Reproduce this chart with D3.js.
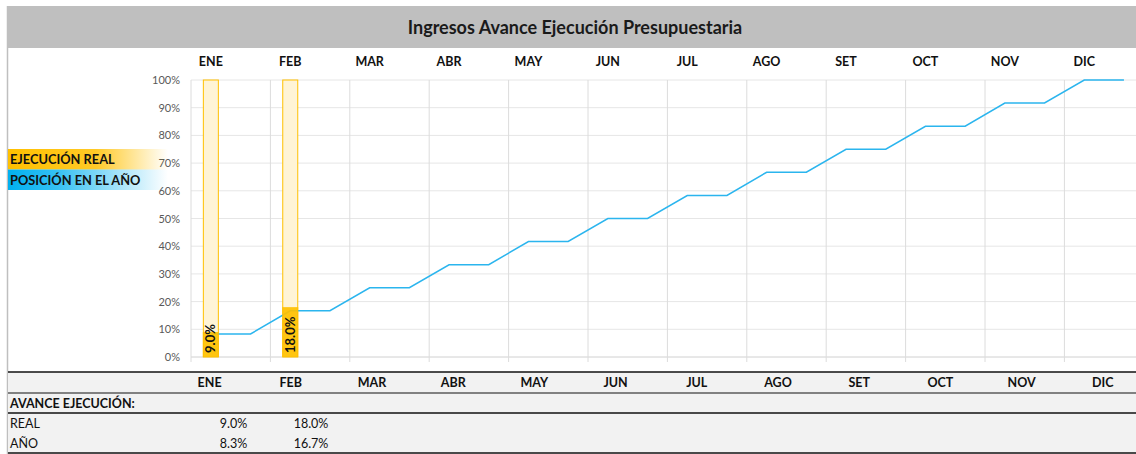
<!DOCTYPE html>
<html>

<head>
    <meta charset="utf-8">
    <style>
        body {
            margin: 0;
            background: white;
            font-family: Lato, "Open Sans", sans-serif;
        }

        svg {
            display: block;
        }
    </style>
</head>

<body>
    <svg width="1136" height="454"></svg>
</body>

<script src="https://d3js.org/d3.v7.min.js"></script>

<script>
    // data
    let months = ["ENE", "FEB", "MAR", "ABR", "MAY", "JUN", "JUL", "AGO", "SET", "OCT", "NOV", "DIC"]
    let realPct = [0.090, 0.180]   // only the months already executed
    let yearPct = [0.083, 0.167, 0.250, 0.333, 0.417, 0.500, 0.583, 0.667, 0.750, 0.833, 0.917, 1.000]
    let yTicks = [0, 0.1, 0.2, 0.3, 0.4, 0.5, 0.6, 0.7, 0.8, 0.9, 1.0]

    let title = "Ingresos Avance Ejecución Presupuestaria"
    let legendLabels = ["EJECUCIÓN REAL", "POSICIÓN EN EL AÑO"]
    let tableLabels = ["AVANCE EJECUCIÓN:", "REAL", "AÑO"]

    let svg = d3.select("svg")
    let defs = svg.append("defs")

    // two slots per month: bar sits in the first, line points in both
    let slots = d3.range(months.length * 2)
    let x = d3.scaleBand()
        .domain(slots)
        .range([191, 191 + 24 * 39.7])

    let y = d3.scaleLinear()
        .domain([0, 1])
        .range([357, 80])

    let fmt = d3.format(".1%")

    // frame + title bar
    svg.append("rect")
        .attr("x", 7).attr("y", 6)
        .attr("width", 1136).attr("height", 42)
        .style("fill", "#bfbfbf")

    svg.append("line")
        .attr("x1", 7.5).attr("x2", 7.5)
        .attr("y1", 6).attr("y2", 454)
        .style("stroke", "#bfbfbf")
        .style("stroke-width", 1.5)

    svg.append("text")
        .attr("x", 575).attr("y", 34)
        .attr("text-anchor", "middle")
        .style("font-size", "18px")
        .style("font-weight", "bold")
        .style("fill", "#1a1a1a")
        .text(title)

    // top month labels
    svg.selectAll(".top-month")
        .data(months)
        .join("text")
        .attr("class", "top-month")
        .attr("x", (d, i) => x(i * 2) + x.bandwidth() / 2)
        .attr("y", 66)
        .attr("text-anchor", "middle")
        .style("font-size", "12.5px")
        .style("font-weight", "bold")
        .style("fill", "#111")
        .text(d => d)

    // gridlines
    svg.selectAll(".hgrid")
        .data(yTicks)
        .join("line")
        .attr("class", "hgrid")
        .attr("x1", x.range()[0]).attr("x2", x.range()[1])
        .attr("y1", d => y(d)).attr("y2", d => y(d))
        .style("stroke", d => d == 0 ? "#d0d0d0" : "#e6e6e6")
        .style("stroke-width", 1)

    svg.selectAll(".vgrid")
        .data(months)
        .join("line")
        .attr("class", "vgrid")
        .attr("x1", (d, i) => x(i * 2)).attr("x2", (d, i) => x(i * 2))
        .attr("y1", y(1)).attr("y2", y(0) + 5)
        .style("stroke", "#dcdcdc")
        .style("stroke-width", 1)

    // y axis labels
    svg.selectAll(".ytick")
        .data(yTicks)
        .join("text")
        .attr("class", "ytick")
        .attr("x", 180)
        .attr("y", d => y(d) + 4)
        .attr("text-anchor", "end")
        .style("font-size", "11px")
        .style("fill", "#595959")
        .text(d => d3.format(".0%")(d))

    // bars: full-height frame then the executed part
    let barW = 16
    let barX = i => x(i * 2) + x.bandwidth() / 2 - barW / 2

    svg.selectAll(".bar-bg")
        .data(realPct)
        .join("rect")
        .attr("class", "bar-bg")
        .attr("x", (d, i) => barX(i) + 0.5)
        .attr("y", y(1))
        .attr("width", barW - 1)
        .attr("height", y(0) - y(1))
        .style("fill", "#fff4d6")
        .style("stroke", "#ffc000")
        .style("stroke-width", 1)

    // line of the year position (flat inside each month, ramps between)
    let linePts = []
    yearPct.forEach((v, i) => {
        linePts.push([i * 2, v])
        linePts.push([i * 2 + 1, v])
    })

    let line = d3.line()
        .x(d => x(d[0]) + x.bandwidth() / 2)
        .y(d => y(d[1]))

    svg.append("path")
        .datum(linePts)
        .attr("d", line)
        .style("fill", "none")
        .style("stroke", "#2bb5ee")
        .style("stroke-width", 1.5)

    svg.selectAll(".bar")
        .data(realPct)
        .join("rect")
        .attr("class", "bar")
        .attr("x", (d, i) => barX(i))
        .attr("y", d => y(d))
        .attr("width", barW)
        .attr("height", d => y(0) - y(d))
        .style("fill", "#ffc000")
        .style("opacity", 0.92)

    svg.selectAll(".bar-label")
        .data(realPct)
        .join("text")
        .attr("class", "bar-label")
        .attr("transform", (d, i) => "translate(" + (barX(i) + barW / 2 + 4.5) + "," + (y(0) - 4) + ") rotate(-90)")
        .style("font-size", "13px")
        .style("font-weight", "bold")
        .style("fill", "#111")
        .text(d => fmt(d))

    // legend with fading colour bands
    let legendColors = ["#ffc000", "#00b0f0"]
    legendColors.forEach((c, i) => {
        let g = defs.append("linearGradient")
            .attr("id", "grad" + i)
        g.append("stop").attr("offset", "0%").attr("stop-color", c)
        g.append("stop").attr("offset", i == 0 ? "55%" : "30%").attr("stop-color", c).attr("stop-opacity", i == 0 ? 0.85 : 0.8)
        g.append("stop").attr("offset", "100%").attr("stop-color", c).attr("stop-opacity", 0)
    })

    svg.selectAll(".legend-box")
        .data(legendLabels)
        .join("rect")
        .attr("class", "legend-box")
        .attr("x", 8)
        .attr("y", (d, i) => 149 + i * 20.5)
        .attr("width", 160)
        .attr("height", 20.5)
        .style("fill", (d, i) => "url(#grad" + i + ")")

    svg.selectAll(".legend-text")
        .data(legendLabels)
        .join("text")
        .attr("class", "legend-text")
        .attr("x", 10)
        .attr("y", (d, i) => 164 + i * 20.5)
        .style("font-size", "12.8px")
        .style("font-weight", "bold")
        .style("fill", "#111")
        .text(d => d)

    // bottom table
    let col = d3.scaleBand()
        .domain(months)
        .range([169, 169 + 12 * 81.2])

    let rowTop = [372, 393, 413, 433]

    svg.append("rect")
        .attr("x", 8).attr("y", 372)
        .attr("width", 1128).attr("height", 82)
        .style("fill", "#f2f2f2")

    svg.selectAll(".row-line")
        .data([372, 393, 413, 453])
        .join("line")
        .attr("class", "row-line")
        .attr("x1", 8).attr("x2", 1136)
        .attr("y1", d => d).attr("y2", d => d)
        .style("stroke", "#111")
        .style("stroke-width", d => d == 393 ? 1 : 1.5)

    svg.selectAll(".bottom-month")
        .data(months)
        .join("text")
        .attr("class", "bottom-month")
        .attr("x", d => col(d) + col.bandwidth() / 2)
        .attr("y", rowTop[0] + 15)
        .attr("text-anchor", "middle")
        .style("font-size", "12.5px")
        .style("font-weight", "bold")
        .style("fill", "#111")
        .text(d => d)

    svg.selectAll(".row-label")
        .data(tableLabels)
        .join("text")
        .attr("class", "row-label")
        .attr("x", 10)
        .attr("y", (d, i) => rowTop[i + 1] + 15)
        .style("font-size", "12.5px")
        .style("font-weight", (d, i) => i == 0 ? "bold" : "normal")
        .style("fill", "#111")
        .text(d => d)

    let tableRows = [realPct, yearPct.slice(0, realPct.length)]
    tableRows.forEach((vals, r) => {
        svg.selectAll(".cell-" + r)
            .data(vals)
            .join("text")
            .attr("class", "cell-" + r)
            .attr("x", (d, i) => col(months[i]) + col.bandwidth() - 3)
            .attr("y", rowTop[r + 2] + 15)
            .attr("text-anchor", "end")
            .style("font-size", "12.5px")
            .style("fill", "#111")
            .text(d => fmt(d))
    })
</script>

</html>
